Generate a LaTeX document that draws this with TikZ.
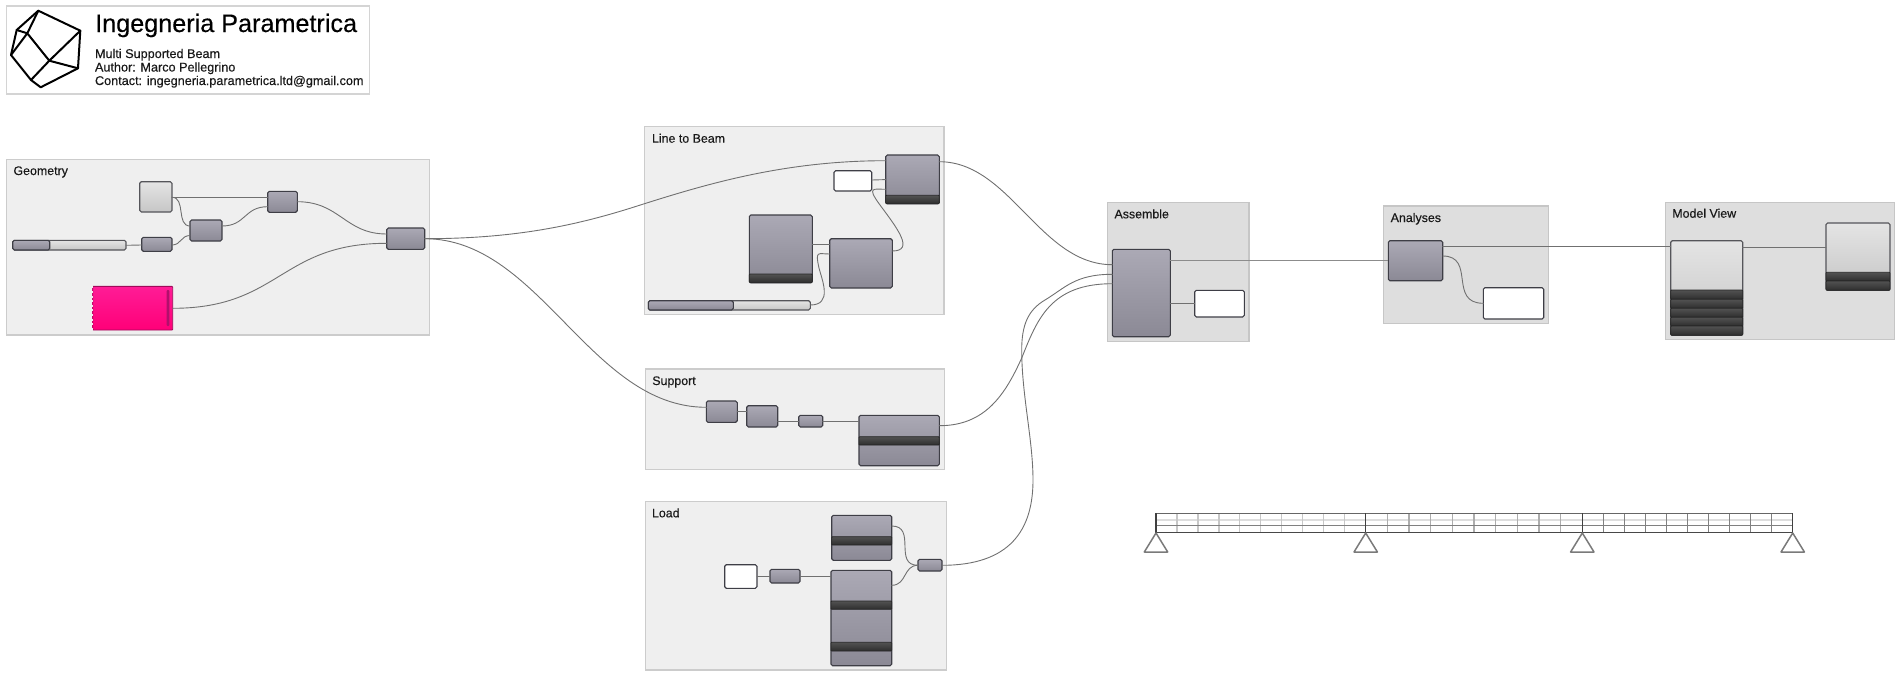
\documentclass[tikz,border=0pt]{standalone}
\usepackage{fontspec}
\setmainfont[FakeBold=0.25]{Liberation Sans}
\tikzset{
  group/.style={draw=grpAb,fill=grpA,line width=1.3pt,inner sep=0pt,outer sep=0pt,rectangle},
  groupd/.style={draw=grpBb,fill=grpB,line width=1.3pt,inner sep=0pt,outer sep=0pt,rectangle},
  comp/.style={draw=nodeb,line width=1.1pt,rounded corners=1.6pt,top color=nodeT,bottom color=nodeB,inner sep=0pt,outer sep=0pt,rectangle},
  lightc/.style={draw=#1,line width=1.1pt,rounded corners=1.6pt,top color=lightT,bottom color=lightB,inner sep=0pt,outer sep=0pt,rectangle},
  lightc/.default=lightb,
  band/.style={draw=black!85,line width=0.8pt,rounded corners=0.8pt,top color=bandT,bottom color=bandB,inner sep=0pt,outer sep=0pt,rectangle},
  panel/.style={draw=nodeb,line width=1.1pt,rounded corners=1.6pt,fill=white,inner sep=0pt,outer sep=0pt,rectangle},
  pinkc/.style={draw=pinkD,line width=0.9pt,rounded corners=0.8pt,top color=pinkT,bottom color=pinkB,inner sep=0pt,outer sep=0pt,rectangle},
  wire/.style={draw=wirec,line width=0.9pt,line cap=round},
  wiret/.style={draw=wiret,line width=1.4pt},
  lbl/.style={anchor=base west,inner sep=0pt,outer sep=0pt,font=\fontsize{12.4}{14}\selectfont,text=black!90},
  sub/.style={anchor=base west,inner sep=0pt,outer sep=0pt,font=\fontsize{12.65}{14}\selectfont,text=black!90},
  logo/.style={draw=black,line width=2pt,line join=round,line cap=round},
  tri/.style={draw=triC,line width=1.5pt,line join=round}
}
\definecolor{grpA}{HTML}{EFEFEF}
\definecolor{grpAb}{HTML}{CCCCCC}
\definecolor{grpB}{HTML}{DEDEDE}
\definecolor{grpBb}{HTML}{C6C6C6}
\definecolor{nodeb}{HTML}{3E3E46}
\definecolor{nodeT}{HTML}{ABA9B5}
\definecolor{nodeB}{HTML}{8B8995}
\definecolor{lightT}{HTML}{E4E4E4}
\definecolor{lightB}{HTML}{C6C6C6}
\definecolor{lightb}{HTML}{55555A}
\definecolor{bandT}{HTML}{525252}
\definecolor{bandB}{HTML}{2E2E2E}
\definecolor{pinkT}{HTML}{FF1C96}
\definecolor{pinkB}{HTML}{FF0078}
\definecolor{pinkD}{HTML}{A00A5A}
\definecolor{pinkS}{HTML}{B0106C}
\definecolor{wirec}{HTML}{707070}
\definecolor{wiret}{HTML}{8C8C8C}
\definecolor{triC}{HTML}{7A7A7A}
\newcommand{\bx}[6][comp]{\node[#1,minimum width={(#5-#3)*1pt},minimum height={(#6-#4)*1pt}] (#2) at ({(#3+#5)/2},{(#4+#6)/2}) {};}
\begin{document}
\begin{tikzpicture}[x=1pt,y=-1pt]
\useasboundingbox (0,0) rectangle (1899,680);
% title block
\node[draw=grpAb!85,fill=white,line width=1.4pt,inner sep=0pt,outer sep=0pt,minimum width=363pt,minimum height=88pt] (titlebox) at (187.8,50) {};
\coordinate (lA) at (38.3,10.7);
\coordinate (lB) at (80.3,30.7);
\coordinate (lC) at (78,68.3);
\coordinate (lD) at (40.7,87.3);
\coordinate (lE) at (31,80);
\coordinate (lF) at (11,55);
\coordinate (lG) at (16.7,30);
\coordinate (lH) at (49.3,60.7);
\coordinate (lI) at (27.3,33.3);
\draw[logo] (lA)--(lB)--(lC)--(lD)--(lE)--(lF)--(lG)--cycle;
\draw[logo] (lA)--(lI)--(lF) (lG)--(lI)--(lH)--(lB) (lH)--(lC) (lH)--(lE);
\node[anchor=base west,inner sep=0pt,font=\fontsize{25.2}{28}\selectfont] (ttl) at (95,32) {Ingegneria Parametrica};
\node[sub] (s1) at (95,58) {Multi Supported Beam};
\node[sub] (s2) at (95,71.5) {Author: Marco Pellegrino};
\node[sub] (s3) at (95,85) {Contact: ingegneria.parametrica.ltd@gmail.com};
% groups
\bx[group]{gGeo}{6.5}{159.7}{429.3}{335}
\bx[group]{gLine}{644.3}{126.7}{944}{314.3}
\bx[group]{gSup}{645.3}{369}{944.3}{469.7}
\bx[group]{gLoad}{645.3}{501.4}{946.3}{670}
\bx[groupd]{gAss}{1107.3}{202.7}{1249}{341.3}
\bx[groupd]{gAna}{1383.3}{206}{1548.3}{323.5}
\bx[groupd]{gMod}{1665.3}{202.3}{1894.3}{339.7}
\node[lbl] (tGeo) at (13.5,175) {Geometry};
\node[lbl] (tLine) at (652,142.7) {Line to Beam};
\node[lbl] (tSup) at (652.3,385) {Support};
\node[lbl] (tLoad) at (652,517.3) {Load};
\node[lbl] (tAss) at (1114.5,218.3) {Assemble};
\node[lbl] (tAna) at (1390.7,222) {Analyses};
\node[lbl] (tMod) at (1672.3,217.7) {Model View};
% geometry components
\bx[lightc]{gSq}{139.7}{181.7}{172}{212}
\bx[lightc]{gSl}{12.7}{240.3}{126}{250}
\bx{gSlK}{12.7}{240.3}{49.7}{250}
\bx{gSm}{141.7}{237.3}{172}{251.3}
\bx{gMid}{190}{220}{222}{241}
\bx{gTop}{267.7}{191.3}{297.3}{212.3}
\bx{gMrg}{386.7}{228}{424.7}{249.3}
\bx[pinkc]{gPink}{92.7}{286.3}{172.7}{330}
\node[fill=pinkS,rounded corners=1pt,inner sep=0pt,minimum width=2.6pt,minimum height=36pt] (gPinkBar) at (168,308) {};
\draw[grpA,line width=1.4pt,dash pattern=on 2pt off 2.6pt] (gPink.north west) -- (gPink.south west);
% line to beam
\bx{lBig}{885.7}{155}{939.3}{203.7}
\bx[band]{lBigB}{885.7}{195.3}{939.3}{203.7}
\bx[panel]{lW}{834}{170.7}{871.7}{191}
\bx{lLg}{749.3}{215}{812.3}{282.7}
\bx[band]{lLgB}{749.3}{274}{812.3}{282.7}
\bx{lMid}{829.7}{238.7}{892.3}{288}
\bx[lightc]{lSl}{648.3}{300.7}{810.3}{310}
\bx{lSlK}{648.3}{300.7}{733.3}{310}
% support
\bx{sA}{706.3}{401}{737.3}{422.3}
\bx{sB}{746.7}{405.7}{777.7}{427}
\bx{sC}{798.7}{415.3}{822.7}{427}
\bx{sD}{859}{415.3}{939.3}{465.7}
\bx[band]{sDB}{859}{436.7}{939.3}{445}
% load
\bx{dE}{831.7}{515.3}{891.7}{560.3}
\bx[band]{dEB}{831.7}{536.7}{891.7}{545}
\bx{dF}{831}{570.3}{891.7}{665.7}
\bx[band]{dFB}{831}{601}{891.7}{609.3}
\bx[band]{dFC}{831}{642.3}{891.7}{651}
\bx[panel]{dW}{724.7}{564.7}{757}{588.3}
\bx{dG}{770}{569.3}{800}{583}
\bx{dH}{918}{559.3}{942}{571}
% assemble
\bx{aN}{1112.3}{249.3}{1170.3}{336.7}
\bx[panel]{aW}{1194.7}{290.3}{1244.3}{317}
% analyses
\bx{nN}{1388.3}{240.7}{1442.7}{280.7}
\bx[panel]{nW}{1483.3}{287.7}{1543.7}{319}
% model view
\bx[lightc]{mA}{1670.7}{240.7}{1742.7}{335.3}
\bx[band]{mA1}{1670.7}{290}{1742.7}{299.3}
\bx[band]{mA2}{1670.7}{299.3}{1742.7}{308.3}
\bx[band]{mA3}{1670.7}{308.3}{1742.7}{317.3}
\bx[band]{mA4}{1670.7}{317.3}{1742.7}{326}
\bx[band]{mA5}{1670.7}{326}{1742.7}{335.3}
\bx[lightc]{mB}{1826}{223}{1890}{290.3}
\bx[band]{mB1}{1826}{272.3}{1890}{281}
\bx[band]{mB2}{1826}{281}{1890}{290.3}
% wires: geometry
\draw[wire] (gSq.east |- 0,197.3) -- (gTop.west |- 0,197.3);
\draw[wire] (gSq.east |- 0,197.3) .. controls (186,197.3) and (176,226) .. (gMid.west |- 0,226);
\draw[wire] (gSl.east |- 0,245.3) -- (gSm.west |- 0,245);
\draw[wire] (gSm.east |- 0,245) .. controls (181,245) and (181,235.5) .. (gMid.west |- 0,235.5);
\draw[wire] (gMid.east |- 0,226) .. controls (246,226) and (244,206.7) .. (gTop.west |- 0,206.7);
\draw[wire] (gTop.east |- 0,201.7) .. controls (340,201.7) and (345,234) .. (gMrg.west |- 0,234);
\draw[wire] (gPink.east |- 0,308.3) .. controls (280,308.3) and (280,243.3) .. (gMrg.west |- 0,243.3);
% wires: geometry to groups
\draw[wire] (gMrg.east |- 0,238.7) .. controls (510,238.7) and (570,227) .. (630,208.3) .. controls (700,186) and (780,160.7) .. (lBig.west |- 0,160.7);
\draw[wire] (gMrg.east |- 0,238.7) .. controls (540,238.7) and (590,407.3) .. (sA.west |- 0,407.3);
% wires: line to beam
\draw[wire] (lW.east |- 0,180) -- (lBig.west |- 0,179.6);
\draw[wire] (lLg.east |- 0,244.3) -- (lMid.west |- 0,244.3);
\draw[wire] (lMid.east |- 0,251) .. controls (915,251) and (897,228) .. (880,205) .. controls (866,186) and (874,189.3) .. (lBig.west |- 0,189.3);
\draw[wire] (lSl.east |- 0,305) .. controls (833,305) and (822,280) .. (819,268) .. controls (815,250) and (818,254) .. (lMid.west |- 0,254);
% wires: support
\draw[wire] (sA.east |- 0,411.4) -- (sB.west |- 0,411.4);
\draw[wire] (sB.east |- 0,421) -- (sC.west |- 0,421);
\draw[wire] (sC.east |- 0,421) -- (sD.west |- 0,421);
% wires: load
\draw[wire] (dW.east |- 0,576) -- (dG.west |- 0,576);
\draw[wire] (dG.east |- 0,576) -- (dF.west |- 0,576);
\draw[wire] (dE.east |- 0,526) .. controls (917,526) and (893,565.3) .. (dH.west |- 0,565.3);
\draw[wire] (dF.east |- 0,585.3) .. controls (907,585.3) and (903,565.3) .. (dH.west |- 0,565.3);
% wires to assemble
\draw[wire] (lBig.east |- 0,161.7) .. controls (1010,161.7) and (1040,264.7) .. (aN.west |- 0,264.7);
\draw[wire] (sD.east |- 0,425.7) .. controls (985,425.7) and (1005,395) .. (1021.7,358) .. controls (1037,320) and (1050,283.7) .. (aN.west |- 0,283.7);
\draw[wire] (dH.east |- 0,565.3) .. controls (1010,565.3) and (1033,530) .. (1033,480) .. controls (1033,440) and (1021.7,395) .. (1021.7,350) .. controls (1021.7,325) and (1028,310) .. (1045,300) .. controls (1065,288) and (1075,274.3) .. (aN.west |- 0,274.3);
% wires: assemble, analyses, view
\draw[wire] (aN.east |- 0,303.3) -- (aW.west |- 0,303.3);
\draw[wiret] (aN.east |- 0,260.7) -- (nN.west |- 0,260.7);
\draw[wire] (nN.east |- 0,246.7) -- (mA.west |- 0,246.7);
\draw[wire] (nN.east |- 0,256) .. controls (1476,256) and (1448,303.3) .. (nW.west |- 0,303.3);
\draw[wire] (mA.east |- 0,247.3) -- (mB.west |- 0,247.3);
% beam
\coordinate (b0) at (1156,513.3);
\coordinate (b1) at (1365.7,513.3);
\coordinate (b2) at (1582.3,513.3);
\coordinate (b3) at (1792.7,513.3);
\draw[black!13,line width=2pt] (b0 |- 0,520) -- (b3 |- 0,520);
\foreach \xx in {1,...,9}{
  \draw[black!22,line width=1.2pt] ({1156+\xx*20.97},513.3) -- ({1156+\xx*20.97},532.3);
  \draw[black!32,line width=1.2pt] ({1365.7+\xx*21.66},513.3) -- ({1365.7+\xx*21.66},532.3);
  \draw[black!50,line width=1.1pt] ({1582.3+\xx*21.04},513.3) -- ({1582.3+\xx*21.04},532.3);
}
\draw[black!50,line width=1pt] (b0 |- 0,525.7) -- (b3 |- 0,525.7);
\draw[black!60,line width=1.5pt] (b0) -- (b3);
\draw[black!72,line width=1.5pt] (b0 |- 0,532.3) -- (b3 |- 0,532.3);
\foreach \n in {0,1,2,3}{
  \draw[black!75,line width=1.4pt] (b\n) -- (b\n |- 0,533);
  \draw[tri] (b\n |- 0,533) -- ([xshift=-11.7pt]b\n |- 0,552) -- ([xshift=11.7pt]b\n |- 0,552) -- cycle;
}
\end{tikzpicture}
\end{document}
